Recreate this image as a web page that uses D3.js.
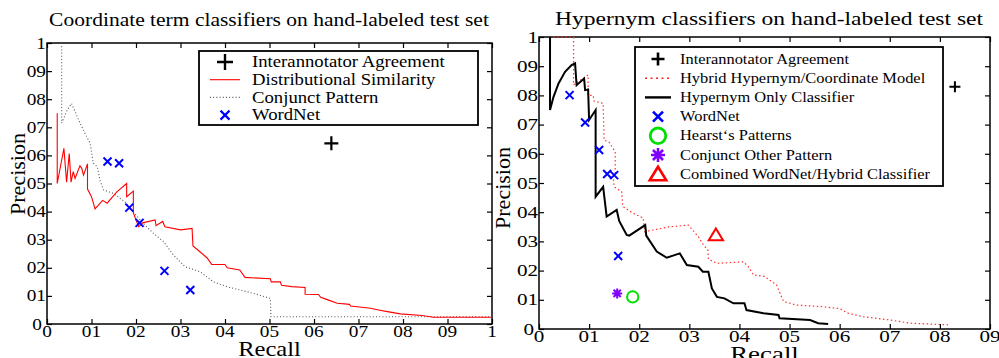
<!DOCTYPE html>
<html>
  <head>
    <meta charset="utf-8">
    <title>precision recall</title>
    <style>
      body { margin: 0; background: #fff; }
      text { font-family: "Liberation Serif", "DejaVu Serif", serif; }
    </style>
  </head>
  <body>
    <script src="https://cdn.jsdelivr.net/npm/d3@7/dist/d3.min.js" charset="utf-8"></script>
    <script type="text/javascript">
      // left panel: coordinate term classifiers, [recall, precision]
      var distSimilarity = [
        [0.023, 0.75], [0.023, 0.50], [0.038, 0.625], [0.044, 0.505], [0.050, 0.607],
        [0.054, 0.505], [0.059, 0.542], [0.063, 0.518], [0.074, 0.563], [0.078, 0.555],
        [0.082, 0.53], [0.091, 0.57], [0.091, 0.48], [0.100, 0.453], [0.108, 0.41],
        [0.125, 0.44], [0.135, 0.43], [0.157, 0.47], [0.179, 0.50], [0.179, 0.453],
        [0.194, 0.473], [0.194, 0.395], [0.206, 0.346], [0.215, 0.36], [0.243, 0.37],
        [0.245, 0.35], [0.26, 0.365], [0.265, 0.346], [0.30, 0.335], [0.326, 0.34],
        [0.328, 0.278], [0.343, 0.258], [0.36, 0.235], [0.37, 0.212], [0.40, 0.212],
        [0.405, 0.20], [0.433, 0.192], [0.445, 0.166], [0.502, 0.161], [0.504, 0.15],
        [0.524, 0.15], [0.527, 0.138], [0.55, 0.133], [0.58, 0.13], [0.58, 0.106],
        [0.61, 0.105], [0.615, 0.095], [0.633, 0.085], [0.652, 0.074], [0.68, 0.07],
        [0.682, 0.064], [0.727, 0.056], [0.745, 0.05], [0.765, 0.044], [0.794, 0.036],
        [0.843, 0.030], [0.869, 0.024], [1.0, 0.024]
      ];
      var conjunctPattern = [
        [0.033, 1.0], [0.033, 0.715], [0.045, 0.76], [0.055, 0.785], [0.062, 0.76],
        [0.074, 0.715], [0.085, 0.68], [0.097, 0.643], [0.104, 0.572], [0.113, 0.56],
        [0.119, 0.512], [0.127, 0.477], [0.149, 0.465], [0.175, 0.435], [0.194, 0.40],
        [0.209, 0.37], [0.239, 0.323], [0.262, 0.293], [0.284, 0.246], [0.31, 0.204],
        [0.344, 0.186], [0.374, 0.15], [0.404, 0.133], [0.464, 0.109], [0.502, 0.091],
        [0.503, 0.026], [1.0, 0.026]
      ];
      var coordWordNet = [[0.136, 0.578], [0.162, 0.572], [0.185, 0.414], [0.208, 0.36], [0.264, 0.189], [0.322, 0.121]];
      var coordAgreement = [[0.639, 0.643]];

      // right panel: hypernym classifiers, [recall, precision]
      var hybridModel = [
        [0.029, 1.0], [0.069, 1.0], [0.069, 0.836], [0.098, 0.87], [0.098, 0.80],
        [0.108, 0.80], [0.110, 0.78], [0.128, 0.773], [0.130, 0.647], [0.140, 0.64],
        [0.152, 0.607], [0.152, 0.533], [0.148, 0.522], [0.150, 0.487], [0.165, 0.47],
        [0.167, 0.42], [0.188, 0.396], [0.208, 0.38], [0.211, 0.333], [0.228, 0.339],
        [0.261, 0.35], [0.298, 0.356], [0.318, 0.316], [0.328, 0.288], [0.337, 0.27],
        [0.338, 0.239], [0.355, 0.225], [0.408, 0.23], [0.418, 0.213], [0.428, 0.185],
        [0.45, 0.18], [0.474, 0.151], [0.488, 0.094], [0.514, 0.082], [0.567, 0.076],
        [0.60, 0.07], [0.617, 0.054], [0.647, 0.042], [0.70, 0.031], [0.74, 0.02],
        [0.82, 0.014]
      ];
      var hypernymOnly = [
        [0.022, 1.0], [0.022, 0.75], [0.029, 0.795], [0.039, 0.841], [0.052, 0.881],
        [0.065, 0.904], [0.072, 0.91], [0.075, 0.835], [0.090, 0.858], [0.092, 0.818],
        [0.098, 0.82], [0.100, 0.716], [0.113, 0.75], [0.113, 0.453], [0.128, 0.487],
        [0.135, 0.385], [0.155, 0.408], [0.160, 0.37], [0.175, 0.322], [0.180, 0.32],
        [0.212, 0.356], [0.214, 0.32], [0.235, 0.265], [0.255, 0.244], [0.281, 0.259],
        [0.295, 0.219], [0.318, 0.213], [0.327, 0.196], [0.338, 0.196], [0.345, 0.139],
        [0.355, 0.11], [0.37, 0.105], [0.388, 0.088], [0.41, 0.088], [0.414, 0.065],
        [0.448, 0.054], [0.478, 0.048], [0.48, 0.037], [0.541, 0.031], [0.557, 0.02],
        [0.577, 0.017]
      ];
      var hyperWordNet = [[0.061, 0.801], [0.092, 0.707], [0.12, 0.613], [0.136, 0.531], [0.15, 0.527], [0.158, 0.25]];
      var hearstPatterns = [[0.187, 0.11]];
      var conjunctOther = [[0.156, 0.122]];
      var combinedClassifier = [[0.353, 0.322]];
      var hyperAgreement = [[0.83, 0.83]];

      var coordTitle = "Coordinate term classifiers on hand-labeled test set";
      var hyperTitle = "Hypernym classifiers on hand-labeled test set";
      var coordLegend = ["Interannotator Agreement", "Distributional Similarity", "Conjunct Pattern", "WordNet"];
      var hyperLegend = ["Interannotator Agreement", "Hybrid Hypernym/Coordinate Model", "Hypernym Only Classifier",
                         "WordNet", "Hearst\u2018s Patterns", "Conjunct Other Pattern", "Combined WordNet/Hybrid Classifier"];
      var coordXTicks = d3.range(0, 11).map(function(i) { return i / 10; });
      var hyperXTicks = d3.range(0, 10).map(function(i) { return i / 10; });
      var yTicks = d3.range(0, 11).map(function(i) { return i / 10; });

      function tickText(d) {
        var k = Math.round(d * 10);
        if (k === 0) return "0";
        if (k === 10) return "1";
        return "0" + k;
      }

      var svg = d3.select("body").append("svg")
                  .attr("width", 999).attr("height", 358)
                  .style("display", "block");
      svg.append("rect").attr("width", 999).attr("height", 358).attr("fill", "#fff");

      // the original picture is stretched sideways, so the text is too
      function addText(g, x, y, str, size, anchor, sx) {
        return g.append("text")
                .attr("transform", "translate(" + x + "," + y + ") scale(" + sx + ",1)")
                .attr("text-anchor", anchor).attr("font-size", size).text(str);
      }

      // marker shapes
      function plusPath(s) { return "M" + (-s) + ",0H" + s + "M0," + (-s) + "V" + s; }
      function crossPath(s) { return "M" + (-s) + "," + (-s) + "L" + s + "," + s + "M" + (-s) + "," + s + "L" + s + "," + (-s); }
      function starPath(s) {
        var a = s * 0.72;
        return crossPath(a) + "M" + (-s) + ",0H" + s + "M0," + (-s) + "V" + s;
      }
      function triPath(s) { return "M0," + (-s) + "L" + (s * 1.1) + "," + (s * 0.8) + "L" + (-s * 1.1) + "," + (s * 0.8) + "Z"; }

      function drawPanel(p) {
        var g = svg.append("g");
        var x = d3.scaleLinear().domain(p.xDomain).range([p.left, p.right]);
        var y = d3.scaleLinear().domain([0, 1]).range([p.bottom, p.top]);

        // ticks on all four sides, pointing inward
        g.append("g").attr("transform", "translate(0," + p.bottom + ")")
         .call(d3.axisBottom(x).tickValues(p.xTicks).tickSize(-5).tickFormat(""));
        g.append("g").attr("transform", "translate(0," + p.top + ")")
         .call(d3.axisTop(x).tickValues(p.xTicks).tickSize(-5).tickFormat(""));
        g.append("g").attr("transform", "translate(" + p.left + ",0)")
         .call(d3.axisLeft(y).tickValues(yTicks).tickSize(-5).tickFormat(""));
        g.append("g").attr("transform", "translate(" + p.right + ",0)")
         .call(d3.axisRight(y).tickValues(yTicks).tickSize(-5).tickFormat(""));
        g.selectAll(".domain").remove();
        g.selectAll(".tick line").attr("stroke", "#000").attr("stroke-width", 1.2);

        g.append("rect")
         .attr("x", p.left).attr("y", p.top)
         .attr("width", p.right - p.left).attr("height", p.bottom - p.top)
         .attr("fill", "none").attr("stroke", "#000").attr("stroke-width", 1.5);

        p.xTicks.forEach(function(d) {
          addText(g, x(d), p.bottom + 13, tickText(d), 16.5, "middle", p.sx);
        });
        yTicks.forEach(function(d) {
          addText(g, p.left - 1 - (d === 0 ? 4 : 0), y(d) + 5.5, tickText(d), 16.5, "end", p.sx);
        });

        addText(g, p.titleX, p.titleY, p.title, 18.4, "middle", p.sx);
        addText(g, (p.left + p.right) / 2, p.xLabelY, "Recall", 21, "middle", p.sx);
        g.append("text")
         .attr("transform", "translate(" + p.yLabelX + "," + p.yLabelY + ") rotate(-90)")
         .attr("text-anchor", "middle").attr("font-size", 22).text("Precision");

        var line = d3.line().x(function(d) { return x(d[0]); }).y(function(d) { return y(d[1]); });
        var plot = g.append("g");
        p.lines.forEach(function(s) {
          plot.append("path").datum(s.data).attr("d", line)
              .attr("fill", "none").attr("stroke", s.color)
              .attr("stroke-width", s.width).attr("stroke-dasharray", s.dash || null)
              .attr("stroke-linejoin", "miter");
        });
        p.markers.forEach(function(s) {
          plot.selectAll(null).data(s.data).enter().append("path")
              .attr("transform", function(d) { return "translate(" + x(d[0]) + "," + y(d[1]) + ")"; })
              .attr("d", s.shape).attr("fill", "none")
              .attr("stroke", s.color).attr("stroke-width", s.width);
        });

        // legend
        var lg = g.append("g");
        lg.append("rect").attr("x", p.legend.x).attr("y", p.legend.y)
          .attr("width", p.legend.w).attr("height", p.legend.h)
          .attr("fill", "#fff").attr("stroke", "#000").attr("stroke-width", 1.8);
        p.legend.items.forEach(function(it, i) {
          var cy = p.legend.y0 + i * p.legend.dy;
          var cx = p.legend.sx;
          if (it.line) {
            lg.append("line").attr("x1", cx - p.legend.lw).attr("x2", cx + p.legend.lw)
              .attr("y1", cy).attr("y2", cy).attr("stroke", it.line.color)
              .attr("stroke-width", it.line.width).attr("stroke-dasharray", it.line.dash || null);
          } else {
            lg.append("path").attr("transform", "translate(" + cx + "," + cy + ")")
              .attr("d", it.shape).attr("fill", "none")
              .attr("stroke", it.color).attr("stroke-width", it.width);
          }
          addText(lg, p.legend.tx, cy + p.legend.fs * 0.33, it.label, p.legend.fs, "start", p.legend.stretch);
        });
      }

      var red = "#ff0000", blue = "#0000ff", green = "#00e000", purple = "#8000ff";

      drawPanel({
        left: 47, right: 492, top: 43, bottom: 324, sx: 1.17,
        xDomain: [0, 1], xTicks: coordXTicks,
        title: coordTitle, titleX: 269, titleY: 26,
        xLabelY: 356, yLabelX: 25, yLabelY: 174,
        lines: [
          { data: conjunctPattern, color: "#555", width: 1.1, dash: "1,2.2" },
          { data: distSimilarity, color: red, width: 1.1 }
        ],
        markers: [
          { data: coordWordNet, shape: crossPath(4), color: blue, width: 2 },
          { data: coordAgreement, shape: plusPath(7), color: "#000", width: 2.2 }
        ],
        legend: {
          x: 199, y: 51, w: 279, h: 74, y0: 62, dy: 17.7, sx: 225, lw: 15, tx: 252, fs: 16, stretch: 1.17,
          items: [
            { label: coordLegend[0], shape: plusPath(8), color: "#000", width: 2.4 },
            { label: coordLegend[1], line: { color: red, width: 1.1 } },
            { label: coordLegend[2], line: { color: "#555", width: 1.1, dash: "1,2.2" } },
            { label: coordLegend[3], shape: crossPath(4.5), color: blue, width: 2.2 }
          ]
        }
      });

      drawPanel({
        left: 539, right: 990, top: 37, bottom: 329, sx: 1.28,
        xDomain: [0, 0.9], xTicks: hyperXTicks,
        title: hyperTitle, titleX: 769, titleY: 25,
        xLabelY: 361, yLabelX: 510, yLabelY: 188,
        lines: [
          { data: hybridModel, color: "#ff3030", width: 1.2, dash: "1.5,2.5" },
          { data: hypernymOnly, color: "#000", width: 2 }
        ],
        markers: [
          { data: hyperWordNet, shape: crossPath(4), color: blue, width: 2 },
          { data: hearstPatterns, shape: d3.symbol().type(d3.symbolCircle).size(100)(), color: green, width: 2 },
          { data: conjunctOther, shape: starPath(5), color: purple, width: 2 },
          { data: combinedClassifier, shape: triPath(6.5), color: red, width: 2 },
          { data: hyperAgreement, shape: plusPath(5.5), color: "#000", width: 2 }
        ],
        legend: {
          x: 635, y: 47, w: 308, h: 139, y0: 59, dy: 19.2, sx: 658, lw: 13, tx: 680, fs: 13.8, stretch: 1.19,
          items: [
            { label: hyperLegend[0], shape: plusPath(6.5), color: "#000", width: 2.6 },
            { label: hyperLegend[1], line: { color: "#ff2020", width: 1.4, dash: "2,3.5" } },
            { label: hyperLegend[2], line: { color: "#000", width: 2.4 } },
            { label: hyperLegend[3], shape: crossPath(5), color: blue, width: 2.6 },
            { label: hyperLegend[4], shape: d3.symbol().type(d3.symbolCircle).size(190)(), color: green, width: 2.8 },
            { label: hyperLegend[5], shape: starPath(7), color: purple, width: 2.6 },
            { label: hyperLegend[6], shape: triPath(7.5), color: red, width: 2.6 }
          ]
        }
      });
    </script>
  </body>
</html>
